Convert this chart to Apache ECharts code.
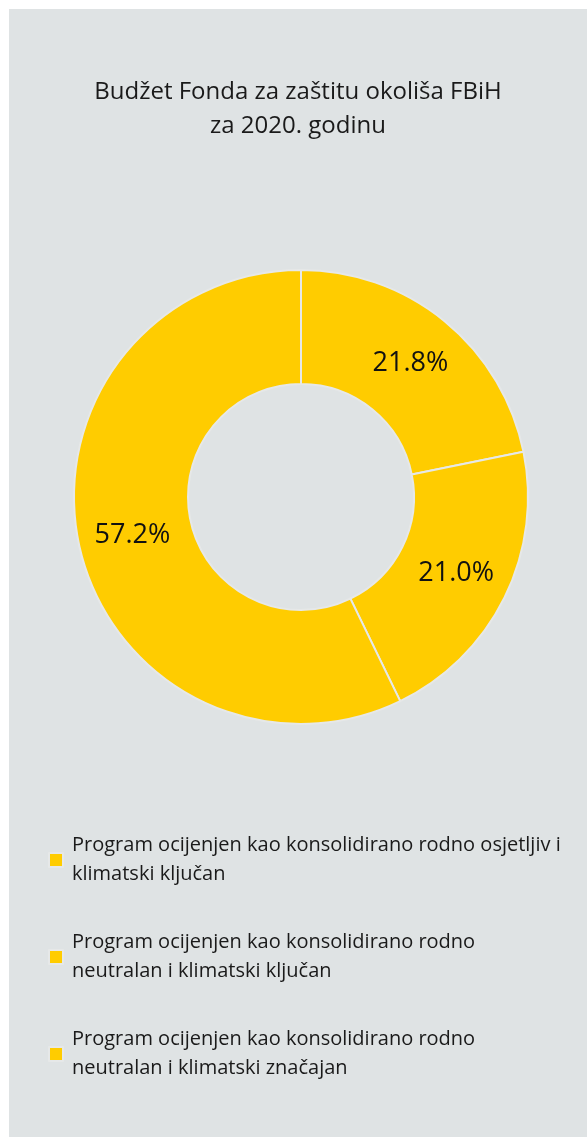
<!DOCTYPE html>
<html>
<head>
<meta charset="utf-8">
<script src="https://cdn.jsdelivr.net/npm/echarts@6/dist/echarts.min.js"></script>
<style>
html,body{margin:0;padding:0;background:#ffffff;}
#chart{position:absolute;left:9px;top:9px;width:578px;height:1128px;background:#dfe3e4;}
</style>
</head>
<body>
<div id="chart"></div>
<script>
const titleLines = ["Budžet Fonda za zaštitu okoliša FBiH", "za 2020. godinu"];
const categories = [
  "Program ocijenjen kao konsolidirano rodno osjetljiv i klimatski ključan",
  "Program ocijenjen kao konsolidirano rodno neutralan i klimatski ključan",
  "Program ocijenjen kao konsolidirano rodno neutralan i klimatski značajan"
];
const legendLines = [
  ["Program ocijenjen kao konsolidirano rodno osjetljiv i", "klimatski ključan"],
  ["Program ocijenjen kao konsolidirano rodno", "neutralan i klimatski ključan"],
  ["Program ocijenjen kao konsolidirano rodno", "neutralan i klimatski značajan"]
];
const values = [21.8, 21.0, 57.2];

const FONT = "'Open Sans', 'Noto Sans', sans-serif";
const chart = echarts.init(document.getElementById('chart'), null, {renderer: 'canvas'});
chart.setOption({
  animation: false,
  title: {
    text: titleLines.join('\n'),
    left: 'center',
    top: 61,
    textStyle: {fontFamily: FONT, fontSize: 24, fontWeight: 'normal', color: '#1a1a1a', lineHeight: 34}
  },
  legend: {
    orient: 'vertical',
    left: 39,
    top: 822,
    padding: 0,
    itemWidth: 14,
    itemHeight: 14,
    itemGap: 39,
    icon: 'rect',
    selectedMode: false,
    data: categories,
    formatter: function (name) {
      return legendLines[categories.indexOf(name)].join('\n');
    },
    textStyle: {fontFamily: FONT, fontSize: 20, color: '#1a1a1a', lineHeight: 29, padding: [0, 0, 0, 4]}
  },
  series: [{
    type: 'pie',
    center: [292, 488],
    radius: [113, 227],
    startAngle: 90,
    clockwise: true,
    avoidLabelOverlap: false,
    itemStyle: {color: '#ffcc00', borderColor: '#e6e8e8', borderWidth: 2},
    label: {
      show: true,
      position: 'inside',
      formatter: function (p) { return p.value.toFixed(1) + '%'; },
      fontFamily: FONT,
      fontSize: 27,
      color: '#111111'
    },
    labelLine: {show: false},
    emphasis: {disabled: true},
    data: categories.map(function (c, i) { return {name: c, value: values[i]}; })
  }]
});
</script>
</body>
</html>
